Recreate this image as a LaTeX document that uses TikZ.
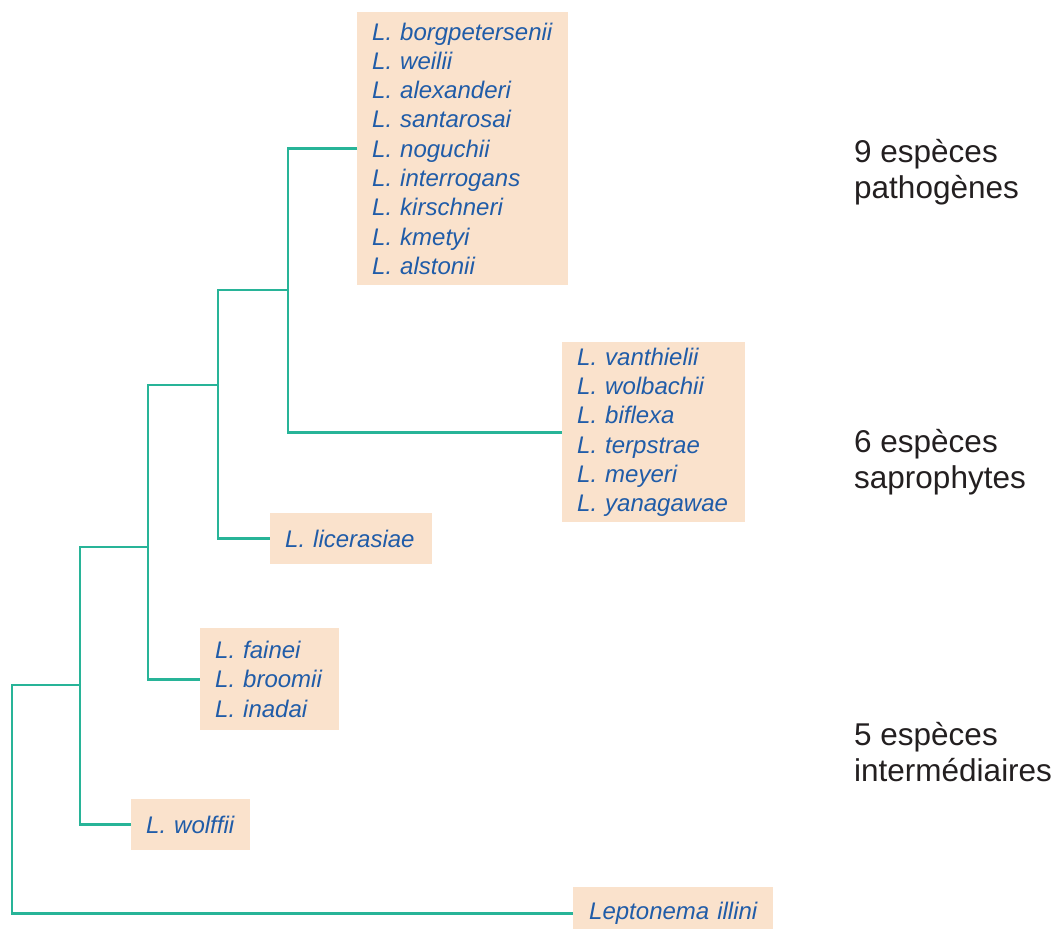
\documentclass[tikz,border=0pt]{standalone}
\usepackage{fontspec}
\setmainfont{Liberation Sans}
\definecolor{branchc}{RGB}{40,180,152}
\definecolor{boxc}{RGB}{250,226,204}
\definecolor{spc}{RGB}{32,92,168}
\definecolor{labc}{RGB}{35,31,32}
\tikzset{
  branch/.style={draw=branchc, line width=2.9pt},
  spbox/.style={fill=boxc, anchor=north west, inner xsep=15pt, inner ysep=0pt,
    align=left, text=spc, font=\fontsize{24}{29.3}\selectfont\itshape},
  grplab/.style={anchor=west, align=left, text=labc, inner sep=0pt,
    font=\fontsize{31.5}{36}\selectfont}
}
\begin{document}
\begin{tikzpicture}[x=1pt,y=-1pt]
\useasboundingbox (0,0) rectangle (1058,929);
% species boxes
\node[spbox, minimum width=211pt, text width=181pt, minimum height=273pt] (pat) at (357,12)
  {L. borgpetersenii\\L. weilii\\L. alexanderi\\L. santarosai\\L. noguchii\\L. interrogans\\L. kirschneri\\L. kmetyi\\L. alstonii};
\node[spbox, minimum width=183pt, text width=153pt, minimum height=180pt] (sap) at (562,342)
  {L. vanthielii\\L. wolbachii\\L. biflexa\\L. terpstrae\\L. meyeri\\L. yanagawae};
\node[spbox, minimum width=162pt, text width=132pt, minimum height=51pt] (lic) at (270,513)
  {L. licerasiae};
\node[spbox, minimum width=139pt, text width=109pt, minimum height=102pt] (fai) at (200,628)
  {L. fainei\\L. broomii\\L. inadai};
\node[spbox, minimum width=119pt, text width=89pt, minimum height=51pt] (wol) at (131,799)
  {L. wolffii};
\node[spbox, minimum width=200pt, minimum height=52pt, inner xsep=16pt, text width=168pt] (lep) at (573,887)
  {Leptonema~illini};
% internal nodes
\coordinate (vD) at (288,290);
\coordinate (vC) at (218,385);
\coordinate (vB) at (148,547);
\coordinate (vA) at (80,685);
\coordinate (vR) at (12,800);
% branches
\draw[branch] (pat.west) -| (vD) |- (sap.west);
\draw[branch] (vD) -| (vC) |- (lic.west);
\draw[branch] (vC) -| (vB) |- (fai.west);
\draw[branch] (vB) -| (vA) |- (wol.west);
\draw[branch] (vA) -| (vR) |- (lep.west);
% group labels
\node[grplab] (g1) at (854,172) {9 espèces\\pathogènes};
\node[grplab] (g2) at (854,462) {6 espèces\\saprophytes};
\node[grplab] (g3) at (854,752) {5 espèces\\intermédiaires};
\end{tikzpicture}
\end{document}
